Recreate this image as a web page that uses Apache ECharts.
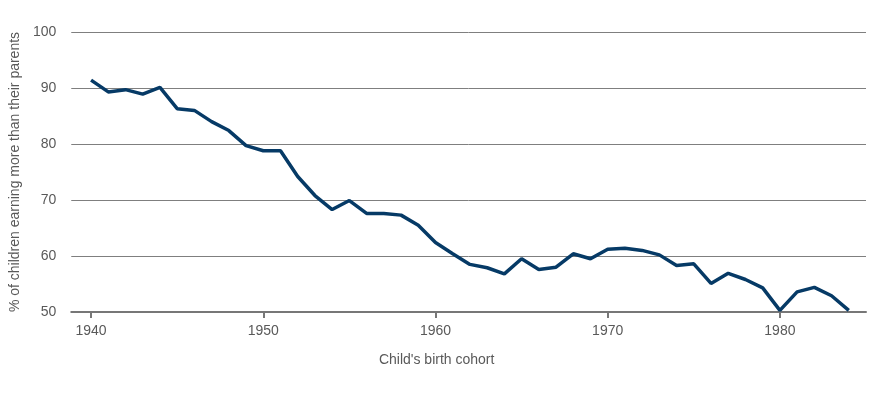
<!DOCTYPE html>
<html>
<head>
<meta charset="utf-8">
<script src="https://cdn.jsdelivr.net/npm/echarts@6/dist/echarts.min.js"></script>
<style>html,body{margin:0;padding:0;background:#fff}#c{width:874px;height:396px}</style>
</head>
<body>
<div id="c"></div>
<script>
const years = [1940,1941,1942,1943,1944,1945,1946,1947,1948,1949,1950,1951,1952,1953,1954,1955,1956,1957,1958,1959,1960,1961,1962,1963,1964,1965,1966,1967,1968,1969,1970,1971,1972,1973,1974,1975,1976,1977,1978,1979,1980,1981,1982,1983,1984];
const shareEarningMore = [91.4,89.3,89.7,88.9,90.1,86.3,86.0,84.0,82.4,79.7,78.8,78.8,74.2,70.8,68.3,69.9,67.6,67.6,67.3,65.5,62.4,60.4,58.5,57.9,56.8,59.5,57.6,58.0,60.4,59.5,61.2,61.4,61.0,60.2,58.3,58.6,55.1,56.9,55.8,54.3,50.3,53.6,54.4,52.9,50.3];
const xTicks = [1940,1950,1960,1970,1980];
const yTicks = [50,60,70,80,90,100];

const font = '"Liberation Sans", Arial, Helvetica, sans-serif';
const textColor = '#595959';
const chart = echarts.init(document.getElementById('c'), null, {renderer:'canvas'});
chart.setOption({
  animation: false,
  grid: {left: 71, right: 8, top: 32, bottom: 84, containLabel: false},
  xAxis: {
    type: 'value',
    min: 1938.85,
    max: 1985,
    name: "Child's birth cohort",
    nameLocation: 'middle',
    nameGap: 41,
    nameTextStyle: {color: textColor, fontSize: 14, fontFamily: font, padding: [0, 64, 0, 0]},
    splitLine: {show: false},
    axisLine: {show: true, lineStyle: {color: '#777777', width: 2}},
    axisTick: {show: true, customValues: xTicks, length: 6, lineStyle: {color: '#777777', width: 2}},
    axisLabel: {customValues: xTicks, color: textColor, fontSize: 14, fontFamily: font, margin: 12,
      formatter: v => String(v)}
  },
  yAxis: {
    type: 'value',
    min: 50,
    max: 100,
    interval: 10,
    name: '% of children earning more than their parents',
    nameLocation: 'middle',
    nameRotate: 90,
    nameGap: 44,
    nameTextStyle: {color: textColor, fontSize: 14, fontFamily: font},
    axisLine: {show: false},
    axisTick: {show: false},
    splitLine: {show: true, lineStyle: {color: '#7f7f7f', width: 1}},
    axisLabel: {customValues: yTicks, color: textColor, fontSize: 14, fontFamily: font, margin: 15}
  },
  series: [{
    type: 'line',
    data: years.map((y, i) => [y, shareEarningMore[i]]),
    symbol: 'none',
    lineStyle: {color: '#063a66', width: 3.5},
    itemStyle: {color: '#063a66'}
  }]
});
</script>
</body>
</html>
